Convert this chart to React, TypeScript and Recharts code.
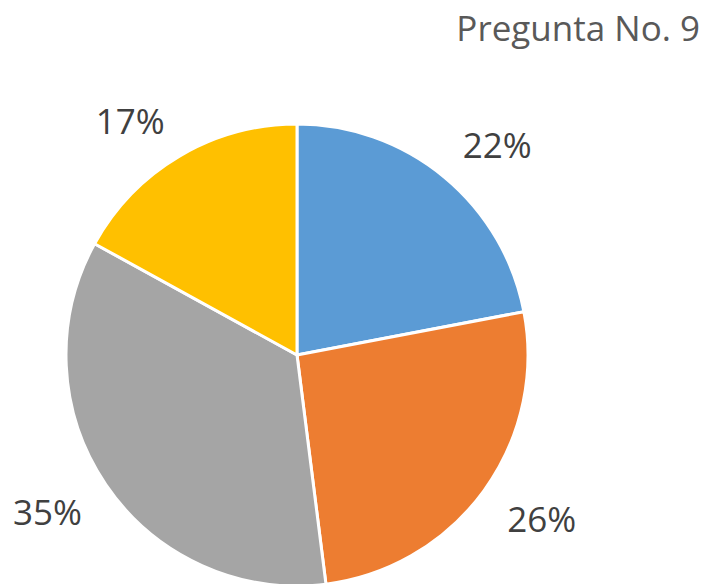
import React from "react";
import { PieChart, Pie, Cell } from "recharts";

const categories = ["A", "B", "C", "D"];
const values = [22, 26, 35, 17];
const labels = ["22%", "26%", "35%", "17%"];
const colors = ["#5B9BD5", "#ED7D31", "#A5A5A5", "#FFC000"];
const title = "Pregunta No. 9";

const data = categories.map((c, i) => ({ name: c, value: values[i], label: labels[i] }));

const RAD = Math.PI / 180;
const FONT = "'Open Sans', 'Noto Sans', sans-serif";

const renderLabel = (props: any) => {
  const { cx, cy, midAngle, outerRadius, index } = props;
  const r = outerRadius + 29;
  const c = Math.cos(-midAngle * RAD);
  const s = Math.sin(-midAngle * RAD);
  const x = cx + r * c;
  const y = cy + r * s;
  const anchor = c >= 0 ? "start" : "end";
  const baseline = s < 0 ? y + 3 : y + 24;
  return (
    <text
      x={x}
      y={baseline}
      textAnchor={anchor}
      fill="#404040"
      fontSize={35}
      fontFamily={FONT}
    >
      {labels[index]}
    </text>
  );
};

export default function App() {
  return (
    <div style={{ position: "absolute", left: 0, top: 0, width: 705, height: 584, background: "#ffffff" }}>
      <PieChart width={705} height={584} margin={{ top: 0, right: 0, bottom: 0, left: 0 }}>
        <text
          x={700}
          y={41}
          textAnchor="end"
          fill="#595959"
          fontSize={35}
          fontFamily={FONT}
        >
          {title}
        </text>
        <Pie
          data={data}
          dataKey="value"
          cx={297}
          cy={355}
          outerRadius={231}
          startAngle={90}
          endAngle={-270}
          stroke="#ffffff"
          strokeWidth={3}
          label={renderLabel}
          labelLine={false}
          isAnimationActive={false}
        >
          {data.map((d, i) => (
            <Cell key={d.name} fill={colors[i]} />
          ))}
        </Pie>
      </PieChart>
    </div>
  );
}
